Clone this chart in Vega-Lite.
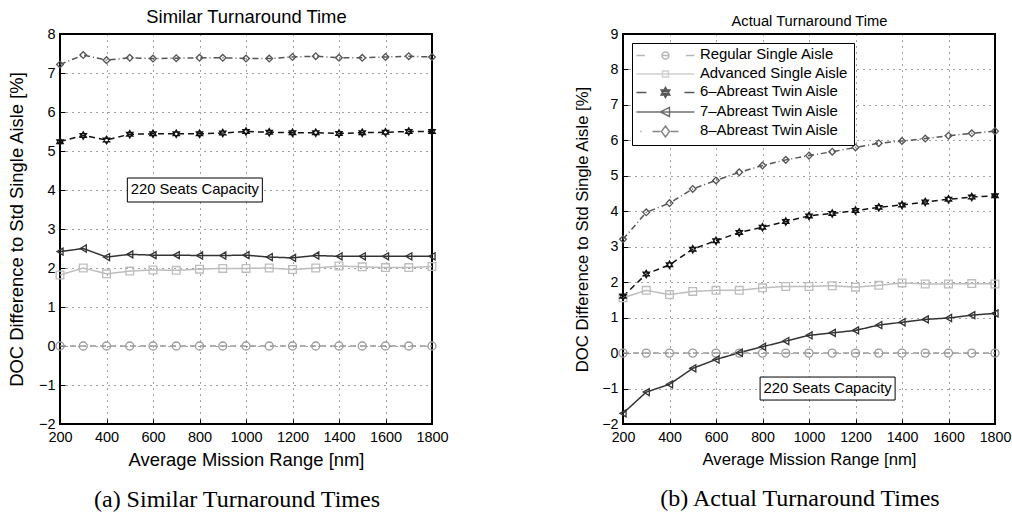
{
  "$schema": "https://vega.github.io/schema/vega-lite/v6.json",
  "padding": {"left": 6, "top": 6, "right": 0, "bottom": 0},
  "bounds": "flush",
  "spacing": 191,
  "datasets": {
    "similar": [
      {"range": 200, "Regular Single Aisle": 0, "Advanced Single Aisle": 1.82, "6–Abreast Twin Aisle": 5.24, "7–Abreast Twin Aisle": 2.42, "8–Abreast Twin Aisle": 7.22},
      {"range": 300, "Regular Single Aisle": 0, "Advanced Single Aisle": 2.00, "6–Abreast Twin Aisle": 5.40, "7–Abreast Twin Aisle": 2.50, "8–Abreast Twin Aisle": 7.46},
      {"range": 400, "Regular Single Aisle": 0, "Advanced Single Aisle": 1.85, "6–Abreast Twin Aisle": 5.28, "7–Abreast Twin Aisle": 2.28, "8–Abreast Twin Aisle": 7.33},
      {"range": 500, "Regular Single Aisle": 0, "Advanced Single Aisle": 1.92, "6–Abreast Twin Aisle": 5.43, "7–Abreast Twin Aisle": 2.35, "8–Abreast Twin Aisle": 7.39},
      {"range": 600, "Regular Single Aisle": 0, "Advanced Single Aisle": 1.95, "6–Abreast Twin Aisle": 5.44, "7–Abreast Twin Aisle": 2.33, "8–Abreast Twin Aisle": 7.37},
      {"range": 700, "Regular Single Aisle": 0, "Advanced Single Aisle": 1.94, "6–Abreast Twin Aisle": 5.44, "7–Abreast Twin Aisle": 2.33, "8–Abreast Twin Aisle": 7.38},
      {"range": 800, "Regular Single Aisle": 0, "Advanced Single Aisle": 1.97, "6–Abreast Twin Aisle": 5.44, "7–Abreast Twin Aisle": 2.32, "8–Abreast Twin Aisle": 7.39},
      {"range": 900, "Regular Single Aisle": 0, "Advanced Single Aisle": 1.99, "6–Abreast Twin Aisle": 5.46, "7–Abreast Twin Aisle": 2.32, "8–Abreast Twin Aisle": 7.39},
      {"range": 1000, "Regular Single Aisle": 0, "Advanced Single Aisle": 1.99, "6–Abreast Twin Aisle": 5.50, "7–Abreast Twin Aisle": 2.33, "8–Abreast Twin Aisle": 7.37},
      {"range": 1100, "Regular Single Aisle": 0, "Advanced Single Aisle": 2.00, "6–Abreast Twin Aisle": 5.48, "7–Abreast Twin Aisle": 2.28, "8–Abreast Twin Aisle": 7.37},
      {"range": 1200, "Regular Single Aisle": 0, "Advanced Single Aisle": 1.96, "6–Abreast Twin Aisle": 5.47, "7–Abreast Twin Aisle": 2.26, "8–Abreast Twin Aisle": 7.41},
      {"range": 1300, "Regular Single Aisle": 0, "Advanced Single Aisle": 2.00, "6–Abreast Twin Aisle": 5.47, "7–Abreast Twin Aisle": 2.32, "8–Abreast Twin Aisle": 7.43},
      {"range": 1400, "Regular Single Aisle": 0, "Advanced Single Aisle": 2.05, "6–Abreast Twin Aisle": 5.45, "7–Abreast Twin Aisle": 2.30, "8–Abreast Twin Aisle": 7.39},
      {"range": 1500, "Regular Single Aisle": 0, "Advanced Single Aisle": 2.03, "6–Abreast Twin Aisle": 5.47, "7–Abreast Twin Aisle": 2.30, "8–Abreast Twin Aisle": 7.39},
      {"range": 1600, "Regular Single Aisle": 0, "Advanced Single Aisle": 2.01, "6–Abreast Twin Aisle": 5.48, "7–Abreast Twin Aisle": 2.30, "8–Abreast Twin Aisle": 7.41},
      {"range": 1700, "Regular Single Aisle": 0, "Advanced Single Aisle": 2.01, "6–Abreast Twin Aisle": 5.50, "7–Abreast Twin Aisle": 2.30, "8–Abreast Twin Aisle": 7.43},
      {"range": 1800, "Regular Single Aisle": 0, "Advanced Single Aisle": 2.04, "6–Abreast Twin Aisle": 5.50, "7–Abreast Twin Aisle": 2.30, "8–Abreast Twin Aisle": 7.41}
    ],
    "actual": [
      {"range": 200, "Regular Single Aisle": 0, "Advanced Single Aisle": 1.56, "6–Abreast Twin Aisle": 1.60, "7–Abreast Twin Aisle": -1.70, "8–Abreast Twin Aisle": 3.21},
      {"range": 300, "Regular Single Aisle": 0, "Advanced Single Aisle": 1.77, "6–Abreast Twin Aisle": 2.23, "7–Abreast Twin Aisle": -1.10, "8–Abreast Twin Aisle": 3.97},
      {"range": 400, "Regular Single Aisle": 0, "Advanced Single Aisle": 1.65, "6–Abreast Twin Aisle": 2.49, "7–Abreast Twin Aisle": -0.88, "8–Abreast Twin Aisle": 4.23},
      {"range": 500, "Regular Single Aisle": 0, "Advanced Single Aisle": 1.74, "6–Abreast Twin Aisle": 2.93, "7–Abreast Twin Aisle": -0.43, "8–Abreast Twin Aisle": 4.63},
      {"range": 600, "Regular Single Aisle": 0, "Advanced Single Aisle": 1.77, "6–Abreast Twin Aisle": 3.17, "7–Abreast Twin Aisle": -0.18, "8–Abreast Twin Aisle": 4.87},
      {"range": 700, "Regular Single Aisle": 0, "Advanced Single Aisle": 1.77, "6–Abreast Twin Aisle": 3.40, "7–Abreast Twin Aisle": 0.01, "8–Abreast Twin Aisle": 5.10},
      {"range": 800, "Regular Single Aisle": 0, "Advanced Single Aisle": 1.84, "6–Abreast Twin Aisle": 3.55, "7–Abreast Twin Aisle": 0.18, "8–Abreast Twin Aisle": 5.29},
      {"range": 900, "Regular Single Aisle": 0, "Advanced Single Aisle": 1.88, "6–Abreast Twin Aisle": 3.71, "7–Abreast Twin Aisle": 0.34, "8–Abreast Twin Aisle": 5.45},
      {"range": 1000, "Regular Single Aisle": 0, "Advanced Single Aisle": 1.88, "6–Abreast Twin Aisle": 3.87, "7–Abreast Twin Aisle": 0.50, "8–Abreast Twin Aisle": 5.57},
      {"range": 1100, "Regular Single Aisle": 0, "Advanced Single Aisle": 1.90, "6–Abreast Twin Aisle": 3.94, "7–Abreast Twin Aisle": 0.57, "8–Abreast Twin Aisle": 5.68},
      {"range": 1200, "Regular Single Aisle": 0, "Advanced Single Aisle": 1.86, "6–Abreast Twin Aisle": 4.02, "7–Abreast Twin Aisle": 0.64, "8–Abreast Twin Aisle": 5.80},
      {"range": 1300, "Regular Single Aisle": 0, "Advanced Single Aisle": 1.91, "6–Abreast Twin Aisle": 4.11, "7–Abreast Twin Aisle": 0.79, "8–Abreast Twin Aisle": 5.92},
      {"range": 1400, "Regular Single Aisle": 0, "Advanced Single Aisle": 1.98, "6–Abreast Twin Aisle": 4.18, "7–Abreast Twin Aisle": 0.87, "8–Abreast Twin Aisle": 5.98},
      {"range": 1500, "Regular Single Aisle": 0, "Advanced Single Aisle": 1.95, "6–Abreast Twin Aisle": 4.26, "7–Abreast Twin Aisle": 0.95, "8–Abreast Twin Aisle": 6.05},
      {"range": 1600, "Regular Single Aisle": 0, "Advanced Single Aisle": 1.95, "6–Abreast Twin Aisle": 4.34, "7–Abreast Twin Aisle": 0.99, "8–Abreast Twin Aisle": 6.13},
      {"range": 1700, "Regular Single Aisle": 0, "Advanced Single Aisle": 1.96, "6–Abreast Twin Aisle": 4.40, "7–Abreast Twin Aisle": 1.07, "8–Abreast Twin Aisle": 6.20},
      {"range": 1800, "Regular Single Aisle": 0, "Advanced Single Aisle": 1.95, "6–Abreast Twin Aisle": 4.44, "7–Abreast Twin Aisle": 1.12, "8–Abreast Twin Aisle": 6.26}
    ]
  },
  "hconcat": [
    {
      "width": 372,
      "height": 390,
      "title": {"text": "(a) Similar Turnaround Times", "orient": "bottom", "font": "Liberation Serif", "fontSize": 24, "fontWeight": "normal", "color": "black", "baseline": "alphabetic", "offset": 38, "frame": "group", "anchor": "middle", "dx": -9},
      "resolve": {"axis": {"x": "independent", "y": "independent"}},
      "layer": [
        {
          "data": {"name": "similar"},
          "transform": [{"fold": ["Regular Single Aisle", "Advanced Single Aisle", "6–Abreast Twin Aisle", "7–Abreast Twin Aisle", "8–Abreast Twin Aisle"], "as": ["series", "doc"]}],
          "mark": {"type": "line", "strokeWidth": 1.5},
          "encoding": {
            "x": {"field": "range", "type": "quantitative", "scale": {"domain": [200, 1800], "nice": false, "zero": false},
                  "axis": {"title": "Average Mission Range [nm]", "values": [200, 400, 600, 800, 1000, 1200, 1400, 1600, 1800], "format": "d", "labelOverlap": false, "labelFlush": false, "titleFontSize": 18.4, "labelFontSize": 14.5, "labelPadding": 11, "titlePadding": 7}},
            "y": {"field": "doc", "type": "quantitative", "scale": {"domain": [-2, 8], "nice": false, "zero": false},
                  "axis": {"title": "DOC Difference to Std Single Aisle [%]", "values": [-2, -1, 0, 1, 2, 3, 4, 5, 6, 7, 8], "labelOverlap": false, "labelFlush": false, "titleFontSize": 18.4, "labelFontSize": 14.5, "labelPadding": 10, "titlePadding": 12}},
            "color": {"field": "series", "type": "nominal", "legend": null, "scale": {"domain": ["Regular Single Aisle", "Advanced Single Aisle", "6–Abreast Twin Aisle", "7–Abreast Twin Aisle", "8–Abreast Twin Aisle"], "range": ["#9a9a9a", "#bdbdbd", "#111111", "#333333", "#555555"]}},
            "strokeDash": {"field": "series", "type": "nominal", "legend": null, "scale": {"domain": ["Regular Single Aisle", "Advanced Single Aisle", "6–Abreast Twin Aisle", "7–Abreast Twin Aisle", "8–Abreast Twin Aisle"], "range": [[6, 4], [1, 0], [6, 4], [1, 0], [6, 3, 1, 3]]}}
          }
        },
        {
          "data": {"name": "similar"},
          "transform": [{"fold": ["Regular Single Aisle", "Advanced Single Aisle", "6–Abreast Twin Aisle", "7–Abreast Twin Aisle", "8–Abreast Twin Aisle"], "as": ["series", "doc"]}],
          "mark": {"type": "point", "filled": false, "strokeWidth": 1.3, "opacity": 1},
          "encoding": {
            "x": {"field": "range", "type": "quantitative",
                  "axis": {"orient": "top", "title": "Similar Turnaround Time", "labels": false, "ticks": false, "domain": false, "grid": false, "titleFontSize": 18.4, "titlePadding": 12, "titleBaseline": "alphabetic"}},
            "y": {"field": "doc", "type": "quantitative", "axis": null},
            "color": {"field": "series", "type": "nominal", "legend": null},
            "shape": {"field": "series", "type": "nominal", "legend": null, "scale": {"domain": ["Regular Single Aisle", "Advanced Single Aisle", "6–Abreast Twin Aisle", "7–Abreast Twin Aisle", "8–Abreast Twin Aisle"], "range": ["circle", "square", "M0,-1L0.866,0.5L-0.866,0.5Z M0,1L0.866,-0.5L-0.866,-0.5Z", "triangle-left", "diamond"]}},
            "size": {"field": "series", "type": "nominal", "legend": null, "scale": {"domain": ["Regular Single Aisle", "Advanced Single Aisle", "6–Abreast Twin Aisle", "7–Abreast Twin Aisle", "8–Abreast Twin Aisle"], "range": [64, 45, 90, 100, 100]}}
          }
        },
        {
          "data": {"values": [{"range": 780, "doc": 4, "label": "220 Seats Capacity"}]},
          "mark": {"type": "rect", "width": 135, "height": 24, "fill": "white", "stroke": "black", "strokeWidth": 1},
          "encoding": {
            "x": {"field": "range", "type": "quantitative", "axis": null},
            "y": {"field": "doc", "type": "quantitative", "axis": null}
          }
        },
        {
          "data": {"values": [{"range": 780, "doc": 4, "label": "220 Seats Capacity"}]},
          "mark": {"type": "text", "fontSize": 14.8, "color": "black"},
          "encoding": {
            "x": {"field": "range", "type": "quantitative", "axis": null},
            "y": {"field": "doc", "type": "quantitative", "axis": null},
            "text": {"field": "label"}
          }
        }
      ]
    },
    {
      "width": 372,
      "height": 390,
      "title": {"text": "(b) Actual Turnaround Times", "orient": "bottom", "font": "Liberation Serif", "fontSize": 24, "fontWeight": "normal", "color": "black", "baseline": "alphabetic", "offset": 38, "frame": "group", "anchor": "middle", "dx": -9},
      "resolve": {"axis": {"x": "independent", "y": "independent"}, "scale": {"shape": "independent", "color": "independent"}},
      "layer": [
        {
          "data": {"name": "actual"},
          "transform": [{"fold": ["Regular Single Aisle", "Advanced Single Aisle", "6–Abreast Twin Aisle", "7–Abreast Twin Aisle", "8–Abreast Twin Aisle"], "as": ["series", "doc"]}],
          "mark": {"type": "line", "strokeWidth": 1.5},
          "encoding": {
            "x": {"field": "range", "type": "quantitative", "scale": {"domain": [200, 1800], "nice": false, "zero": false},
                  "axis": {"title": "Average Mission Range [nm]", "values": [200, 400, 600, 800, 1000, 1200, 1400, 1600, 1800], "format": "d", "labelOverlap": false, "labelFlush": false, "titleFontSize": 16.7, "labelFontSize": 14.2, "labelPadding": 11, "titlePadding": 7}},
            "y": {"field": "doc", "type": "quantitative", "scale": {"domain": [-2, 9], "nice": false, "zero": false},
                  "axis": {"title": "DOC Difference to Std Single Aisle [%]", "values": [-2, -1, 0, 1, 2, 3, 4, 5, 6, 7, 8, 9], "labelOverlap": false, "labelFlush": false, "titleFontSize": 16.7, "labelFontSize": 14.2, "labelPadding": 10, "titlePadding": 10}},
            "color": {"field": "series", "type": "nominal", "legend": null, "scale": {"domain": ["Regular Single Aisle", "Advanced Single Aisle", "6–Abreast Twin Aisle", "7–Abreast Twin Aisle", "8–Abreast Twin Aisle"], "range": ["#9a9a9a", "#bdbdbd", "#111111", "#333333", "#555555"]}},
            "strokeDash": {"field": "series", "type": "nominal", "legend": null, "scale": {"domain": ["Regular Single Aisle", "Advanced Single Aisle", "6–Abreast Twin Aisle", "7–Abreast Twin Aisle", "8–Abreast Twin Aisle"], "range": [[6, 4], [1, 0], [6, 4], [1, 0], [6, 3, 1, 3]]}}
          }
        },
        {
          "data": {"name": "actual"},
          "transform": [{"fold": ["Regular Single Aisle", "Advanced Single Aisle", "6–Abreast Twin Aisle", "7–Abreast Twin Aisle", "8–Abreast Twin Aisle"], "as": ["series", "doc"]}],
          "mark": {"type": "point", "filled": false, "strokeWidth": 1.3, "opacity": 1},
          "encoding": {
            "x": {"field": "range", "type": "quantitative",
                  "axis": {"orient": "top", "title": "Actual Turnaround Time", "labels": false, "ticks": false, "domain": false, "grid": false, "titleFontSize": 14.7, "titlePadding": 9, "titleBaseline": "alphabetic"}},
            "y": {"field": "doc", "type": "quantitative", "axis": null},
            "color": {"field": "series", "type": "nominal", "legend": null, "scale": {"domain": ["Regular Single Aisle", "Advanced Single Aisle", "6–Abreast Twin Aisle", "7–Abreast Twin Aisle", "8–Abreast Twin Aisle"], "range": ["#9a9a9a", "#bdbdbd", "#111111", "#333333", "#555555"]}},
            "shape": {"field": "series", "type": "nominal", "legend": null, "scale": {"domain": ["Regular Single Aisle", "Advanced Single Aisle", "6–Abreast Twin Aisle", "7–Abreast Twin Aisle", "8–Abreast Twin Aisle"], "range": ["circle", "square", "M0,-1L0.866,0.5L-0.866,0.5Z M0,1L0.866,-0.5L-0.866,-0.5Z", "triangle-left", "diamond"]}},
            "size": {"field": "series", "type": "nominal", "legend": null, "scale": {"domain": ["Regular Single Aisle", "Advanced Single Aisle", "6–Abreast Twin Aisle", "7–Abreast Twin Aisle", "8–Abreast Twin Aisle"], "range": [64, 45, 90, 100, 100]}}
          }
        },
        {
          "data": {"values": [{"range": 1080, "doc": -1, "label": "220 Seats Capacity"}]},
          "mark": {"type": "rect", "width": 135, "height": 23, "fill": "white", "stroke": "black", "strokeWidth": 1},
          "encoding": {
            "x": {"field": "range", "type": "quantitative", "axis": null},
            "y": {"field": "doc", "type": "quantitative", "axis": null}
          }
        },
        {
          "data": {"values": [{"range": 1080, "doc": -1, "label": "220 Seats Capacity"}]},
          "mark": {"type": "text", "fontSize": 14.8, "color": "black"},
          "encoding": {
            "x": {"field": "range", "type": "quantitative", "axis": null},
            "y": {"field": "doc", "type": "quantitative", "axis": null},
            "text": {"field": "label"}
          }
        },
        {
          "data": {"name": "actual"},
          "transform": [{"fold": ["Regular Single Aisle", "Advanced Single Aisle", "6–Abreast Twin Aisle", "7–Abreast Twin Aisle", "8–Abreast Twin Aisle"], "as": ["series", "doc"]}, {"filter": "datum.range < 0"}],
          "mark": {"type": "point", "filled": false},
          "encoding": {
            "color": {"field": "series", "type": "nominal",
                      "scale": {"domain": ["Regular Single Aisle", "Advanced Single Aisle", "6–Abreast Twin Aisle", "7–Abreast Twin Aisle", "8–Abreast Twin Aisle"], "range": ["#9a9a9a", "#bdbdbd", "#111111", "#333333", "#555555"]},
                      "legend": {"title": null, "orient": "top-left", "offset": 9, "padding": 5, "strokeColor": "black", "fillColor": "white",
                                 "symbolSize": 100, "symbolOffset": 21, "labelOffset": 27, "labelFontSize": 14.9, "labelLimit": 300, "rowPadding": 2.5,
                                 "symbolStrokeWidth": 1.5, "symbolFillColor": "transparent"}},
            "shape": {"field": "series", "type": "nominal",
                      "scale": {"domain": ["Regular Single Aisle", "Advanced Single Aisle", "6–Abreast Twin Aisle", "7–Abreast Twin Aisle", "8–Abreast Twin Aisle"],
                                "range": ["M-5.8,0H-4.1 M4.1,0H5.8 M0.7,0A0.7,0.7 0 1,1 -0.7,0A0.7,0.7 0 1,1 0.7,0 M-0.7,0H0.7",
                                          "M-5.8,0H5.8 M-0.6,-0.6H0.6V0.6H-0.6Z",
                                          "M-5.8,0H-3.8 M3.8,0H5.8 M0,-1L0.866,0.5L-0.866,0.5Z M0,1L0.866,-0.5L-0.866,-0.5Z M-0.4,-0.2H0.4 M-0.4,0.2H0.4",
                                          "M-5.8,0H5.8 M-1,0L0.8,-0.9L0.8,0.9Z",
                                          "M-5,0H-4.8 M-2.6,0H-1 M1,0H2.6 M0,-1.1L0.8,0L0,1.1L-0.8,0Z"]},
                      "legend": {"title": null, "orient": "top-left", "offset": 9, "padding": 5, "strokeColor": "black", "fillColor": "white",
                                 "symbolSize": 100, "symbolOffset": 21, "labelOffset": 27, "labelFontSize": 14.9, "labelLimit": 300, "rowPadding": 2.5,
                                 "symbolStrokeWidth": 1.5, "symbolFillColor": "transparent"}}
          }
        }
      ]
    }
  ],
  "config": {
    "font": "Liberation Sans",
    "view": {"stroke": "black", "strokeWidth": 2},
    "axis": {"domain": false, "grid": true, "gridColor": "#000000", "gridOpacity": 0.75, "gridDash": [1, 5], "gridWidth": 1,
             "tickSize": -5, "tickColor": "#000000", "labelColor": "#000000", "titleColor": "#000000", "titleFontWeight": "normal", "labelFont": "Liberation Sans", "titleFont": "Liberation Sans"},
    "legend": {"labelFont": "Liberation Sans", "labelColor": "#000000"}
  }
}
